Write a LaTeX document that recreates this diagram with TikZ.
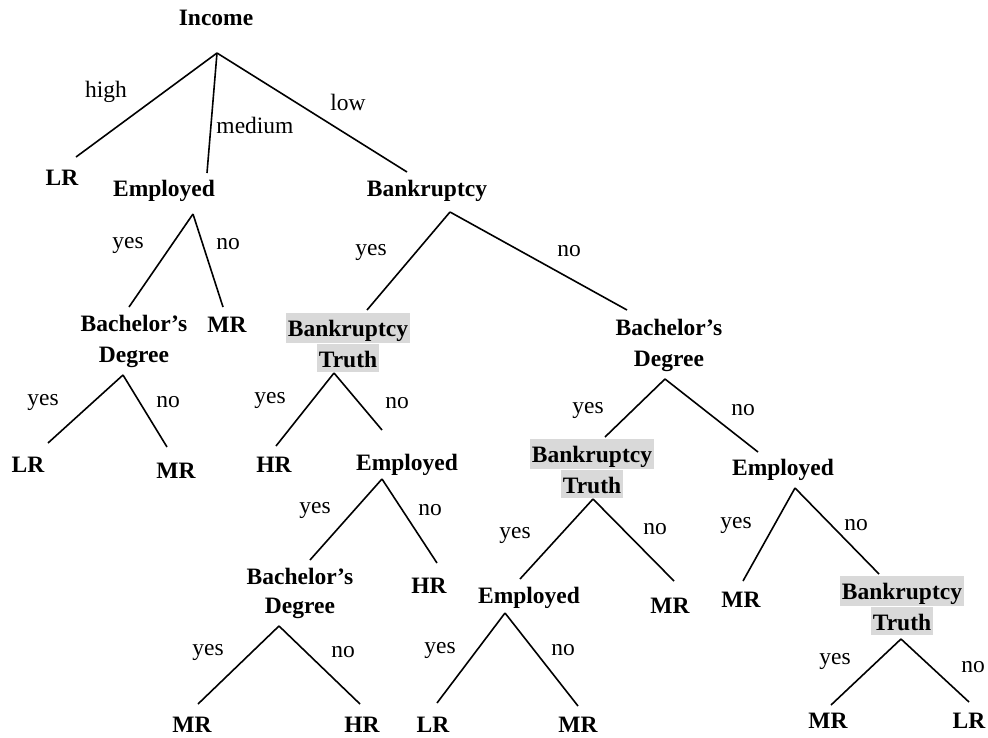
\documentclass[tikz,border=0pt]{standalone}
\usepackage{fontspec}
\setmainfont{Liberation Serif}
\definecolor{hlgray}{RGB}{217,217,217}
% one highlighted line of a node label
\newcommand{\hlrow}[1]{{\setlength{\fboxsep}{1.5pt}\colorbox{hlgray}{\rule[-3.5pt]{0pt}{25pt}#1}}}
\begin{document}
\begin{tikzpicture}[x=1pt,y=-1pt,line width=1.6pt,
  attr/.style={font=\fontsize{23.5}{31}\selectfont\bfseries,anchor=base,align=center,inner sep=0pt},
  tight/.style={font=\fontsize{23.5}{28.5}\selectfont\bfseries},
  leaf/.style={attr},
  edgelbl/.style={font=\fontsize{23.5}{28}\selectfont,anchor=center,inner sep=0pt},
  branch/.style={draw=black,line cap=butt}]
\useasboundingbox (0,0) rectangle (988,737);

% ---- nodes (two-line labels sit on the baseline of their last line) ----
\node[attr] (income) at (216,25) {Income};
\node[leaf] (lr1) at (62,185) {LR};
\node[attr] (emp1) at (164,196) {Employed};
\node[attr] (bank) at (427,196) {Bankruptcy};
\node[attr] (bachL) at (134,362) {Bachelor’s\\Degree};
\node[leaf] (mr1) at (227,332) {MR};
\node[attr] (bt1) at (348,367) {\hlrow{Bankruptcy}\\\hlrow{Truth}};
\node[attr] (bachR) at (669,366) {Bachelor’s\\Degree};
\node[leaf] (lr2) at (28,472) {LR};
\node[leaf] (mr2) at (176,478) {MR};
\node[leaf] (hr1) at (274,472) {HR};
\node[attr] (emp2) at (407,470) {Employed};
\node[attr] (bt2) at (592,493) {\hlrow{Bankruptcy}\\\hlrow{Truth}};
\node[attr] (emp3) at (783,475) {Employed};
\node[attr,tight] (bach3) at (300,613) {Bachelor’s\\Degree};
\node[leaf] (hr2) at (429,593) {HR};
\node[attr] (emp4) at (529,603) {Employed};
\node[leaf] (mr3) at (670,613) {MR};
\node[leaf] (mr4) at (741,607) {MR};
\node[attr,tight] (bt3) at (902,630) {\hlrow{Bankruptcy}\\\hlrow{Truth}};
\node[leaf] (mr5) at (192,732) {MR};
\node[leaf] (hr3) at (362,732) {HR};
\node[leaf] (lr3) at (433,732) {LR};
\node[leaf] (mr6) at (578,732) {MR};
\node[leaf] (mr7) at (828,728) {MR};
\node[leaf] (lr4) at (969,728) {LR};

% ---- fork points below each test and line ends above each child ----
\coordinate (income-f) at (217,53);
\coordinate (lr1-t) at (76,157);
\coordinate (emp1-t) at (207,173);
\coordinate (bank-t) at (407,172);
\coordinate (emp1-f) at (193,214);
\coordinate (bachL-t) at (129,307);
\coordinate (mr1-t) at (223,307);
\coordinate (bank-f) at (450,212);
\coordinate (bt1-t) at (367,310);
\coordinate (bachR-t) at (627,310);
\coordinate (bachL-f) at (123,375);
\coordinate (lr2-t) at (48,443);
\coordinate (mr2-t) at (167,447);
\coordinate (bt1-f) at (334,373);
\coordinate (hr1-t) at (276,446);
\coordinate (emp2-t) at (382,430);
\coordinate (bachR-f) at (665,379);
\coordinate (bt2-t) at (605,437);
\coordinate (emp3-t) at (758,452);
\coordinate (emp2-f) at (382,479);
\coordinate (bach3-t) at (310,560);
\coordinate (hr2-t) at (437,563);
\coordinate (bt2-f) at (593,499);
\coordinate (emp4-t) at (520,579);
\coordinate (mr3-t) at (674,581);
\coordinate (emp3-f) at (795,488);
\coordinate (mr4-t) at (743,581);
\coordinate (bt3-t) at (879,574);
\coordinate (bach3-f) at (279,626);
\coordinate (mr5-t) at (198,704);
\coordinate (hr3-t) at (360,704);
\coordinate (emp4-f) at (505,613);
\coordinate (lr3-t) at (437,703);
\coordinate (mr6-t) at (578,706);
\coordinate (bt3-f) at (901,639);
\coordinate (mr7-t) at (831,705);
\coordinate (lr4-t) at (969,702);

% ---- branches ----
\foreach \p/\c in {income/lr1,income/emp1,income/bank,
                   emp1/bachL,emp1/mr1,bank/bt1,bank/bachR,
                   bachL/lr2,bachL/mr2,bt1/hr1,bt1/emp2,
                   bachR/bt2,bachR/emp3,emp2/bach3,emp2/hr2,
                   bt2/emp4,bt2/mr3,emp3/mr4,emp3/bt3,
                   bach3/mr5,bach3/hr3,emp4/lr3,emp4/mr6,
                   bt3/mr7,bt3/lr4}
  \draw[branch] (\p-f) -- (\c-t);

% ---- branch labels ----
\node[edgelbl] (l-high) at (106,92) {high};
\node[edgelbl] (l-medium) at (255,125) {medium};
\node[edgelbl] (l-low) at (348,102) {low};
\node[edgelbl] (l-e1y) at (128,245) {yes};
\node[edgelbl] (l-e1n) at (228,244) {no};
\node[edgelbl] (l-by) at (371,252) {yes};
\node[edgelbl] (l-bn) at (569,251) {no};
\node[edgelbl] (l-bly) at (43,402) {yes};
\node[edgelbl] (l-bln) at (168,402) {no};
\node[edgelbl] (l-t1y) at (270,400) {yes};
\node[edgelbl] (l-t1n) at (397,403) {no};
\node[edgelbl] (l-bry) at (588,410) {yes};
\node[edgelbl] (l-brn) at (743,410) {no};
\node[edgelbl] (l-e2y) at (315,510) {yes};
\node[edgelbl] (l-e2n) at (430,510) {no};
\node[edgelbl] (l-t2y) at (515,535) {yes};
\node[edgelbl] (l-t2n) at (655,529) {no};
\node[edgelbl] (l-e3y) at (736,525) {yes};
\node[edgelbl] (l-e3n) at (856,525) {no};
\node[edgelbl] (l-b3y) at (208,652) {yes};
\node[edgelbl] (l-b3n) at (343,652) {no};
\node[edgelbl] (l-e4y) at (440,650) {yes};
\node[edgelbl] (l-e4n) at (563,650) {no};
\node[edgelbl] (l-t3y) at (835,661) {yes};
\node[edgelbl] (l-t3n) at (973,667) {no};
\end{tikzpicture}
\end{document}
